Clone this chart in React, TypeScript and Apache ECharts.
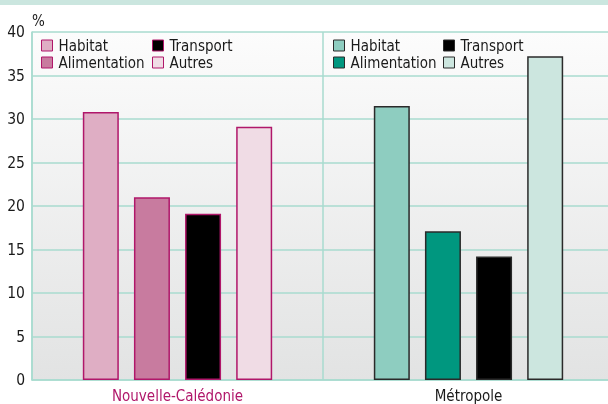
import React, { useEffect, useRef } from "react";
import * as echarts from "echarts";

const categories = ["Nouvelle-Calédonie", "Métropole"];
const seriesNames = ["Habitat", "Alimentation", "Transport", "Autres"];
const habitat = [30.8, 31.5];
const alimentation = [21.0, 17.1];
const transport = [19.1, 14.2];
const autres = [29.1, 37.2];
const yMin = 0;
const yMax = 40;
const yInterval = 5;

const FONT = "'DejaVu Sans Condensed', 'Liberation Sans Narrow', sans-serif";

// fill colours per region (index 0: Nouvelle-Calédonie, 1: Métropole), per series
const fills = [
  ["#dfaec4", "#c87b9f", "#000000", "#f0dce5"],
  ["#8ecdc0", "#00977f", "#000000", "#cce6df"],
];
const borders = ["#b0176a", "#2a2a2a"];
const labelColors = ["#b0176a", "#1a1a1a"];
const gridColor = "#a9dbcf";

export default function App() {
  const ref = useRef<HTMLDivElement>(null);
  useEffect(() => {
    document.body.style.margin = "0";
    if (!ref.current) return;
    const chart = echarts.init(ref.current, null, { renderer: "svg" });
    const values = [habitat, alimentation, transport, autres];
    const series = seriesNames.map((name, si) => ({
      name,
      type: "bar",
      barWidth: 36,
      barGap: "42%",
      data: values[si].map((v, ci) => ({
        value: v,
        itemStyle: {
          color: fills[ci][si],
          borderColor: borders[ci],
          borderWidth: 1.5,
        },
      })),
    }));
    const legendData = (ci: number, idx: number[]) =>
      idx.map((si) => ({
        name: seriesNames[si],
        itemStyle: {
          color: fills[ci][si],
          borderColor: borders[ci],
          borderWidth: 1,
        },
      }));
    const legendBase = {
      orient: "vertical",
      top: 38,
      padding: 0,
      itemGap: 2,
      itemWidth: 11,
      itemHeight: 11,
      selectedMode: false,
      icon: "rect",
      textStyle: { fontFamily: FONT, fontSize: 15, color: "#1a1a1a", lineHeight: 15, padding: [0, 0, 0, 1] },
    };
    chart.setOption({
      animation: false,
      graphic: [
        {
          type: "rect",
          shape: { x: 0, y: 0, width: 608, height: 5 },
          style: { fill: "#cbe6df" },
          silent: true,
        },
      ],
      legend: [
        { ...legendBase, left: 41, data: legendData(0, [0, 1]) },
        { ...legendBase, left: 152, data: legendData(0, [2, 3]) },
        { ...legendBase, left: 333, data: legendData(1, [0, 1]) },
        { ...legendBase, left: 443, data: legendData(1, [2, 3]) },
      ],
      grid: {
        left: 32,
        top: 32,
        width: 582,
        height: 348,
        outerBoundsMode: "none",
        containLabel: false,
        show: true,
        borderWidth: 0,
        backgroundColor: new echarts.graphic.LinearGradient(0, 0, 0, 1, [
          { offset: 0, color: "#fcfcfc" },
          { offset: 1, color: "#e2e3e3" },
        ]),
      },
      xAxis: {
        type: "category",
        data: categories,
        axisTick: { show: false },
        axisLine: { lineStyle: { color: gridColor, width: 1.5 } },
        splitLine: { show: true, lineStyle: { color: gridColor, width: 1.5 } },
        axisLabel: {
          margin: 8,
          fontFamily: FONT,
          fontSize: 15,
          color: (_v: string, i: number) => labelColors[i],
        },
      },
      yAxis: {
        type: "value",
        min: yMin,
        max: yMax,
        interval: yInterval,
        name: "%",
        nameLocation: "end",
        nameGap: 4,
        nameTextStyle: { fontFamily: FONT, fontSize: 15, color: "#1a1a1a", align: "left" },
        axisLine: { show: true, lineStyle: { color: gridColor, width: 1.5 } },
        axisTick: { show: false },
        splitLine: { lineStyle: { color: gridColor, width: 1.5 } },
        axisLabel: { margin: 7, fontFamily: FONT, fontSize: 15.5, color: "#1a1a1a" },
      },
      series,
    });
    return () => chart.dispose();
  }, []);
  return (
    <div
      ref={ref}
      style={{ position: "fixed", left: 0, top: 0, width: 608, height: 404 }}
    />
  );
}
